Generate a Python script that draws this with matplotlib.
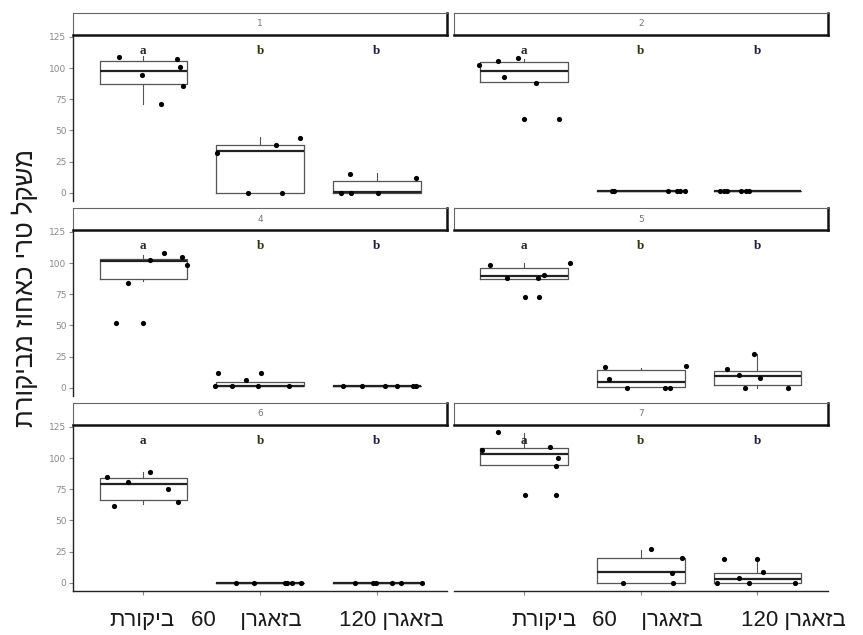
import re
import numpy as np
import matplotlib.pyplot as plt
from matplotlib.transforms import ScaledTranslation

groups = ["ביקורת", "בזאגרן 60", "בזאגרן 120"]
facets = ["1", "2", "4", "5", "6", "7"]
letters = ["a", "b", "b"]
ylabel = "משקל טרי כאחוז מביקורת"
yticks = [0, 25, 50, 75, 100, 125]

# points: value + horizontal jitter per treatment
vals_1 = [[109.0, 107.4, 101.0, 94.3, 85.5, 70.8], [32.1, 0, 37.9, 0, 44.1], [0, 15.2, 0, 0, 12.0]]
jit_1 = [[-0.21, 0.29, 0.31, -0.01, 0.34, 0.15], [-0.37, -0.10, 0.14, 0.19, 0.34], [-0.31, -0.23, -0.22, 0.01, 0.34]]
vals_2 = [[102.3, 105.5, 108.4, 93.0, 88.4, 59.3, 59.3], [1, 1, 1, 1, 1, 1], [1, 1, 1, 1, 1, 1]]
jit_2 = [[-0.39, -0.22, -0.05, -0.17, 0.10, 0.0, 0.30], [-0.25, -0.23, 0.23, 0.31, 0.34, 0.38], [-0.32, -0.29, -0.26, -0.14, -0.10, -0.07]]
vals_4 = [[52.3, 52.3, 84.0, 102.2, 108.1, 104.6, 98.7], [11.5, 1.6, 1.6, 5.9, 1.6, 11.5, 1.6], [1.6, 1.6, 1.6, 1.6, 1.6, 1.6]]
jit_4 = [[-0.23, 0.0, -0.13, 0.06, 0.18, 0.33, 0.37], [-0.36, -0.39, -0.24, -0.12, -0.02, 0.01, 0.25], [-0.29, -0.13, 0.07, 0.17, 0.31, 0.34]]
vals_5 = [[98.7, 100.1, 87.7, 88.3, 90.4, 73.0, 73.0], [16.9, 17.7, 7.2, 0, 0, 0], [27.1, 14.8, 9.9, 7.8, 0, 0]]
jit_5 = [[-0.29, 0.39, -0.15, 0.12, 0.17, 0.01, 0.13], [-0.31, 0.39, -0.27, -0.12, 0.21, 0.25], [-0.03, -0.26, -0.16, 0.02, -0.11, 0.26]]
vals_6 = [[85.0, 61.6, 80.8, 88.5, 75.2, 64.8], [0, 0, 0, 0, 0, 0], [0, 0, 0, 0, 0, 0]]
jit_6 = [[-0.31, -0.25, -0.13, 0.06, 0.21, 0.30], [-0.21, -0.05, 0.21, 0.23, 0.27, 0.35], [-0.19, -0.03, -0.01, 0.13, 0.21, 0.39]]
vals_7 = [[121.0, 106.3, 109.3, 100.2, 93.3, 70.1, 70.1], [27.2, 19.5, 7.5, 0, 0], [18.7, 18.7, 8.5, 3.7, 0, 0, 0]]
jit_7 = [[-0.22, -0.36, 0.22, 0.29, 0.27, 0.01, 0.27], [0.09, 0.35, 0.27, -0.15, 0.28], [-0.29, 0.0, 0.05, -0.16, -0.35, -0.07, 0.32]]

# box stats: q1, median, q3, lower whisker, upper whisker
box_1 = [(87.3, 97.8, 106.0, 70.8, 110.0), (0, 33.4, 38.2, 0, 44.9), (0, 0.5, 9.1, 0, 16.0)]
box_2 = [(88.9, 97.8, 105.0, 88.9, 107.0), (1, 1, 1, 1, 1), (1, 1, 1, 1, 1)]
box_4 = [(87.2, 101.4, 103.5, 85.3, 106.8), (1.0, 1.6, 4.8, 1.0, 4.8), (1.6, 1.6, 1.6, 1.6, 1.6)]
box_5 = [(87.2, 89.3, 96.0, 87.2, 100.0), (0.3, 4.3, 14.2, 0.3, 16.0), (2.1, 9.4, 13.7, 0, 27.1)]
box_6 = [(66.6, 79.2, 83.7, 63.2, 88.5), (0, 0, 0, 0, 0), (0, 0, 0, 0, 0)]
box_7 = [(94.6, 103.7, 107.9, 94.6, 120.5), (0, 8.8, 19.5, 0, 25.9), (0, 2.7, 7.5, 0, 18.7)]

panels = [(vals_1, jit_1, box_1), (vals_2, jit_2, box_2), (vals_4, jit_4, box_4),
          (vals_5, jit_5, box_5), (vals_6, jit_6, box_6), (vals_7, jit_7, box_7)]


def vis(s):
    # matplotlib lays glyphs left to right, so flip hebrew but keep numbers
    r = s[::-1]
    return re.sub(r"\d+", lambda m: m.group(0)[::-1], r)


heb = ["Liberation Sans", "DejaVu Sans"]
W, H = 863, 635
fig = plt.figure(figsize=(W / 100, H / 100), dpi=100)


def frac(x, y, w, h):
    return [x / W, 1 - (y + h) / H, w / W, h / H]


col_x = [73.3, 454.0]
row_y = [35.0, 230.0, 425.0]
strip_y = [13.0, 208.0, 403.0]
pw, ph, sh = 373.5, 166.0, 22.0
letter_cols = ["#2b2b2b", "#33330f", "#1f1f45"]

# x labels in the reference sit a bit off their ticks (px shifts)
xlab_shift = [[-1.5, -13.5, 14.5], [20.0, 7.0, 35.5]]
xlabels = [vis(g) for g in groups]
xlabels[1] = xlabels[1].replace(" ", "    ")  # wide gap before the 60

for k, (vals, jit, box) in enumerate(panels):
    r, c = divmod(k, 2)
    ax = fig.add_axes(frac(col_x[c], row_y[r], pw, ph))
    stats = [dict(q1=b[0], med=b[1], q3=b[2], whislo=b[3], whishi=b[4], fliers=[]) for b in box]
    ax.bxp(stats, positions=[1, 2, 3], widths=0.75, showcaps=False,
           boxprops=dict(color="#555555", lw=0.9),
           whiskerprops=dict(color="#555555", lw=0.8),
           medianprops=dict(color="#222222", lw=1.6))
    for i in range(3):
        xs = np.array(jit[i]) + i + 1
        ax.scatter(xs, vals[i], s=14, color="black", zorder=3, linewidths=0)
        ax.text(i + 1, 113.5, letters[i], ha="center", va="center", fontsize=9.5,
                family="Liberation Serif", weight="bold", color=letter_cols[i])
    ax.set_xlim(0.4, 3.6)
    ax.set_ylim(-6.7, 126.6)
    for s in ["top", "right", "left", "bottom"]:
        ax.spines[s].set_visible(False)
    if c == 0:
        ax.spines["left"].set_visible(True)
        ax.spines["left"].set_color("#222222")
        ax.spines["left"].set_linewidth(1.0)
        ax.set_yticks(yticks)
        ax.tick_params(axis="y", length=3, color="#888888", labelsize=6.5,
                       labelcolor="#8a8a8a", pad=2)
    else:
        ax.set_yticks([])
    if r == 2:
        ax.spines["bottom"].set_visible(True)
        ax.spines["bottom"].set_color("#222222")
        ax.spines["bottom"].set_linewidth(1.0)
        ax.set_xticks([1, 2, 3])
        ax.set_xticklabels(xlabels, family=heb, fontsize=16, color="#1a1a1a")
        ax.tick_params(axis="x", length=3, color="#888888", pad=10.5)
        for lab, dx in zip(ax.get_xticklabels(), xlab_shift[c]):
            lab.set_transform(lab.get_transform() + ScaledTranslation(dx / 100, 0, fig.dpi_scale_trans))
    else:
        ax.set_xticks([])

    st = fig.add_axes(frac(col_x[c], strip_y[r], pw, sh))
    st.set_xticks([])
    st.set_yticks([])
    for s in ["top", "left"]:
        st.spines[s].set_color("#666666")
        st.spines[s].set_linewidth(0.8)
    for s in ["bottom", "right"]:
        st.spines[s].set_color("#111111")
        st.spines[s].set_linewidth(1.8)
    st.text(0.5, 0.5, facets[k], ha="center", va="center", fontsize=6.5, color="#777777",
            transform=st.transAxes)

fig.text(25 / W, 1 - 288 / H, vis(ylabel), rotation=90, ha="center", va="center",
         family=heb, fontsize=18.5, color="#1a1a1a")

fig.savefig("out.png", dpi=100)
